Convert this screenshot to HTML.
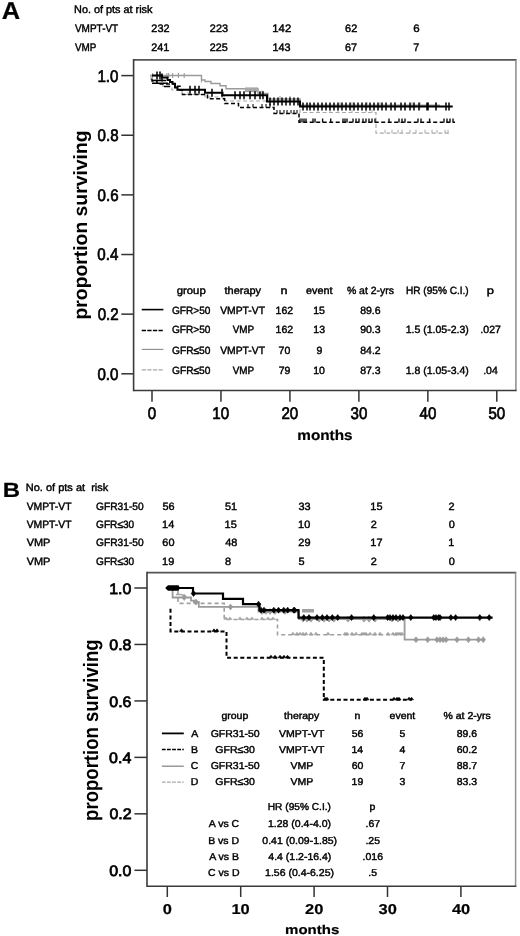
<!DOCTYPE html>
<html><head><meta charset="utf-8"><style>
html,body{margin:0;padding:0;background:#fff;overflow:hidden;}
svg{display:block;filter:blur(0.3px);}
text{font-family:"Liberation Sans", sans-serif;text-rendering:geometricPrecision;}
</style></head><body>
<svg width="520" height="936" viewBox="0 0 520 936">
<rect width="520" height="936" fill="#fff"/>
<text transform="translate(1.86,19.40) scale(1.0402,1)" font-size="24.5" font-weight="bold" fill="#000" stroke="#000" stroke-width="0.2">A</text>
<text transform="translate(74.11,13.30) scale(1.0045,1)" font-size="10.8" fill="#000" stroke="#000" stroke-width="0.42">No. of pts at risk</text>
<text transform="translate(74.95,31.90) scale(0.9246,1)" font-size="10.8" fill="#000" stroke="#000" stroke-width="0.42">VMPT-VT</text>
<text transform="translate(74.95,51.20) scale(0.9132,1)" font-size="10.8" fill="#000" stroke="#000" stroke-width="0.42">VMP</text>
<text transform="translate(151.35,31.90) scale(1.0098,1)" font-size="10.8" fill="#000" stroke="#000" stroke-width="0.42">232</text>
<text transform="translate(151.36,51.20)" font-size="10.8" fill="#000" stroke="#000" stroke-width="0.42">241</text>
<text transform="translate(209.86,31.90) scale(1.0059,1)" font-size="10.8" fill="#000" stroke="#000" stroke-width="0.42">223</text>
<text transform="translate(209.86,51.20)" font-size="10.8" fill="#000" stroke="#000" stroke-width="0.42">225</text>
<text transform="translate(272.34,31.90) scale(1.0448,1)" font-size="10.8" fill="#000" stroke="#000" stroke-width="0.42">142</text>
<text transform="translate(272.38,51.20)" font-size="10.8" fill="#000" stroke="#000" stroke-width="0.42">143</text>
<text transform="translate(345.04,31.90) scale(1.0166,1)" font-size="10.8" fill="#000" stroke="#000" stroke-width="0.42">62</text>
<text transform="translate(345.05,51.20)" font-size="10.8" fill="#000" stroke="#000" stroke-width="0.42">67</text>
<text transform="translate(413.31,31.90) scale(1.0645,1)" font-size="10.8" fill="#000" stroke="#000" stroke-width="0.42">6</text>
<text transform="translate(413.35,51.20)" font-size="10.8" fill="#000" stroke="#000" stroke-width="0.42">7</text>
<line x1="133.60" y1="59.90" x2="516.60" y2="59.90" stroke="#555" stroke-width="1.7"/>
<line x1="515.90" y1="59.90" x2="515.90" y2="390.50" stroke="#939393" stroke-width="1.6"/>
<line x1="133.60" y1="59.10" x2="133.60" y2="391.30" stroke="#3a3a3a" stroke-width="1.6"/>
<line x1="133.60" y1="390.50" x2="516.60" y2="390.50" stroke="#3a3a3a" stroke-width="1.6"/>
<line x1="121.30" y1="373.80" x2="133.50" y2="373.80" stroke="#333" stroke-width="1.5"/>
<text transform="translate(97.47,379.70) scale(0.9000,1)" font-size="16.8" fill="#000" stroke="#000" stroke-width="0.7">0.0</text>
<line x1="121.30" y1="314.16" x2="133.50" y2="314.16" stroke="#333" stroke-width="1.5"/>
<text transform="translate(97.64,320.06) scale(0.9000,1)" font-size="16.8" fill="#000" stroke="#000" stroke-width="0.7">0.2</text>
<line x1="121.30" y1="254.52" x2="133.50" y2="254.52" stroke="#333" stroke-width="1.5"/>
<text transform="translate(97.32,260.42) scale(0.9000,1)" font-size="16.8" fill="#000" stroke="#000" stroke-width="0.7">0.4</text>
<line x1="121.30" y1="194.88" x2="133.50" y2="194.88" stroke="#333" stroke-width="1.5"/>
<text transform="translate(97.55,200.78) scale(0.9000,1)" font-size="16.8" fill="#000" stroke="#000" stroke-width="0.7">0.6</text>
<line x1="121.30" y1="135.24" x2="133.50" y2="135.24" stroke="#333" stroke-width="1.5"/>
<text transform="translate(97.53,141.14) scale(0.9000,1)" font-size="16.8" fill="#000" stroke="#000" stroke-width="0.7">0.8</text>
<line x1="121.30" y1="75.60" x2="133.50" y2="75.60" stroke="#333" stroke-width="1.5"/>
<text transform="translate(97.47,81.50) scale(0.9000,1)" font-size="16.8" fill="#000" stroke="#000" stroke-width="0.7">1.0</text>
<line x1="152.00" y1="390.50" x2="152.00" y2="401.80" stroke="#333" stroke-width="1.5"/>
<text transform="translate(147.80,419.20) scale(0.9000,1)" font-size="16.8" fill="#000" stroke="#000" stroke-width="0.7">0</text>
<line x1="220.96" y1="390.50" x2="220.96" y2="401.80" stroke="#333" stroke-width="1.5"/>
<text transform="translate(212.27,419.20) scale(0.9000,1)" font-size="16.8" fill="#000" stroke="#000" stroke-width="0.7">10</text>
<line x1="289.92" y1="390.50" x2="289.92" y2="401.80" stroke="#333" stroke-width="1.5"/>
<text transform="translate(281.43,419.20) scale(0.9000,1)" font-size="16.8" fill="#000" stroke="#000" stroke-width="0.7">20</text>
<line x1="358.88" y1="390.50" x2="358.88" y2="401.80" stroke="#333" stroke-width="1.5"/>
<text transform="translate(350.48,419.20) scale(0.9000,1)" font-size="16.8" fill="#000" stroke="#000" stroke-width="0.7">30</text>
<line x1="427.84" y1="390.50" x2="427.84" y2="401.80" stroke="#333" stroke-width="1.5"/>
<text transform="translate(419.55,419.20) scale(0.9000,1)" font-size="16.8" fill="#000" stroke="#000" stroke-width="0.7">40</text>
<line x1="496.80" y1="390.50" x2="496.80" y2="401.80" stroke="#333" stroke-width="1.5"/>
<text transform="translate(488.39,419.20) scale(0.9000,1)" font-size="16.8" fill="#000" stroke="#000" stroke-width="0.7">50</text>
<text transform="translate(297.29,439.50) scale(1.0792,1)" font-size="14.2" font-weight="bold" fill="#000" stroke="#000" stroke-width="0.2">months</text>
<text transform="translate(86.50,319.48) rotate(-90) scale(1.0076,1.0000)" font-size="19.2" font-weight="bold">proportion surviving</text>
<text transform="translate(176.72,294.00) scale(1.0783,1)" font-size="10.5" fill="#000" stroke="#000" stroke-width="0.42">group</text>
<text transform="translate(224.54,294.00) scale(1.0434,1)" font-size="10.5" fill="#000" stroke="#000" stroke-width="0.42">therapy</text>
<text transform="translate(280.62,294.00) scale(1.1989,1)" font-size="10.5" fill="#000" stroke="#000" stroke-width="0.42">n</text>
<text transform="translate(306.00,294.00) scale(1.0271,1)" font-size="10.5" fill="#000" stroke="#000" stroke-width="0.42">event</text>
<text transform="translate(346.92,294.00) scale(0.9956,1)" font-size="10.5" fill="#000" stroke="#000" stroke-width="0.42">% at 2-yrs</text>
<text transform="translate(405.97,294.00) scale(0.9604,1)" font-size="10.5" fill="#000" stroke="#000" stroke-width="0.42">HR (95% C.I.)</text>
<text transform="translate(486.66,294.00) scale(1.2302,1)" font-size="10.5" fill="#000" stroke="#000" stroke-width="0.42">p</text>
<text transform="translate(172.00,313.70) scale(0.9606,1)" font-size="10.5" fill="#000" stroke="#000" stroke-width="0.42">GFR&gt;50</text>
<text transform="translate(220.15,313.70) scale(0.9864,1)" font-size="10.5" fill="#000" stroke="#000" stroke-width="0.42">VMPT-VT</text>
<text transform="translate(275.61,313.70)" font-size="10.5" fill="#000" stroke="#000" stroke-width="0.42">162</text>
<text transform="translate(313.28,313.70)" font-size="10.5" fill="#000" stroke="#000" stroke-width="0.42">15</text>
<text transform="translate(360.19,313.70)" font-size="10.5" fill="#000" stroke="#000" stroke-width="0.42">89.6</text>
<text transform="translate(172.00,333.40) scale(0.9606,1)" font-size="10.5" fill="#000" stroke="#000" stroke-width="0.42">GFR&gt;50</text>
<text transform="translate(232.65,333.40) scale(0.9415,1)" font-size="10.5" fill="#000" stroke="#000" stroke-width="0.42">VMP</text>
<text transform="translate(275.61,333.40)" font-size="10.5" fill="#000" stroke="#000" stroke-width="0.42">162</text>
<text transform="translate(313.29,333.40)" font-size="10.5" fill="#000" stroke="#000" stroke-width="0.42">13</text>
<text transform="translate(360.17,333.40)" font-size="10.5" fill="#000" stroke="#000" stroke-width="0.42">90.3</text>
<text transform="translate(405.71,333.40)" font-size="10.5" fill="#000" stroke="#000" stroke-width="0.42">1.5 (1.05-2.3)</text>
<text transform="translate(480.37,333.40)" font-size="10.5" fill="#000" stroke="#000" stroke-width="0.42">.027</text>
<text transform="translate(171.99,353.75) scale(0.9697,1)" font-size="10.5" fill="#000" stroke="#000" stroke-width="0.42">GFR≤50</text>
<text transform="translate(220.15,353.75) scale(0.9864,1)" font-size="10.5" fill="#000" stroke="#000" stroke-width="0.42">VMPT-VT</text>
<text transform="translate(278.60,353.75)" font-size="10.5" fill="#000" stroke="#000" stroke-width="0.42">70</text>
<text transform="translate(316.38,353.75)" font-size="10.5" fill="#000" stroke="#000" stroke-width="0.42">9</text>
<text transform="translate(360.22,353.75)" font-size="10.5" fill="#000" stroke="#000" stroke-width="0.42">84.2</text>
<text transform="translate(171.99,373.50) scale(0.9697,1)" font-size="10.5" fill="#000" stroke="#000" stroke-width="0.42">GFR≤50</text>
<text transform="translate(232.65,373.50) scale(0.9415,1)" font-size="10.5" fill="#000" stroke="#000" stroke-width="0.42">VMP</text>
<text transform="translate(278.64,373.50)" font-size="10.5" fill="#000" stroke="#000" stroke-width="0.42">79</text>
<text transform="translate(313.27,373.50)" font-size="10.5" fill="#000" stroke="#000" stroke-width="0.42">10</text>
<text transform="translate(360.19,373.50)" font-size="10.5" fill="#000" stroke="#000" stroke-width="0.42">87.3</text>
<text transform="translate(405.71,373.50)" font-size="10.5" fill="#000" stroke="#000" stroke-width="0.42">1.8 (1.05-3.4)</text>
<text transform="translate(483.18,373.50)" font-size="10.5" fill="#000" stroke="#000" stroke-width="0.42">.04</text>
<line x1="141.70" y1="309.60" x2="163.40" y2="309.60" stroke="#000" stroke-width="1.6"/>
<line x1="141.70" y1="330.50" x2="163.60" y2="330.50" stroke="#000" stroke-width="1.6" stroke-dasharray="4.3,1.3"/>
<line x1="141.70" y1="349.40" x2="163.40" y2="349.40" stroke="#8a8a8a" stroke-width="1.1"/>
<line x1="141.70" y1="369.90" x2="163.60" y2="369.90" stroke="#a8a8a8" stroke-width="1.2" stroke-dasharray="4.3,1.3"/>
<path d="M151,76 H151 V80 H163 V86.3 H172 V90 H182 V94.5 H205 V97 H225 V101 H300 V112.5 H376 V133.2 H449" fill="none" stroke="#a8a8a8" stroke-width="1.2" stroke-dasharray="4,2.5"/>
<path d="M188.0,91.5V94.5 M196.0,91.5V94.5 M318.0,109.5V112.5 M330.0,109.5V112.5 M338.0,109.5V112.5 M352.0,109.5V112.5 M366.0,109.5V112.5 M372.0,109.5V112.5" stroke="#b0b0b0" stroke-width="1.0" fill="none"/>
<path d="M385.0,129.7V133.2 M392.0,129.7V133.2 M398.0,129.7V133.2 M402.0,129.7V133.2 M410.0,129.7V133.2 M416.0,129.7V133.2 M425.0,129.7V133.2 M432.0,129.7V133.2 M437.0,129.7V133.2 M445.0,129.7V133.2 M448.0,129.7V133.2" stroke="#a8a8a8" stroke-width="1.0" fill="none"/>
<path d="M150,75.5 H201.5 V80 H205 V81.5 H211 V83.5 H220 V85.8 H226 V88.8 H258 V93.5 H268 V99 H300 V105.2 H440" fill="none" stroke="#9a9a9a" stroke-width="1.4"/>
<path d="M152.5,72.9V78.1 M166.9,72.9V78.1 M168.6,72.9V78.1 M172.7,72.9V78.1 M178.4,72.9V78.1 M184.2,72.9V78.1 M201.5,77.4V82.6" stroke="#9a9a9a" stroke-width="1.1" fill="none"/>
<rect x="245" y="87.4" width="13" height="4.8" fill="#a8a8a8"/>
<path d="M262.0,90.5V96.5 M280.0,96.0V102.0 M290.0,96.0V102.0 M340.0,102.2V108.2 M352.0,102.2V108.2 M367.0,102.2V108.2 M380.0,102.2V108.2 M395.0,102.2V108.2 M412.0,102.2V108.2 M420.0,102.2V108.2 M428.0,102.2V108.2 M436.0,102.2V108.2" stroke="#a0a0a0" stroke-width="1.1" fill="none"/>
<path d="M152,78.5 H152 V81 H157 V84 H175 V86.3 H180 V90 H182.5 V94.5 H207.5 V98.8 H224.6 V103.5 H238.5 V107.5 H274 V113.5 H299 V122.3 H455" fill="none" stroke="#000" stroke-width="1.5" stroke-dasharray="4,2.5"/>
<path d="M248.0,104.0V107.5 M253.0,104.0V107.5 M262.0,104.0V107.5 M266.0,104.0V107.5 M270.0,104.0V107.5 M277.0,110.0V113.5 M280.0,110.0V113.5 M284.0,110.0V113.5 M287.0,110.0V113.5 M291.0,110.0V113.5 M294.0,110.0V113.5 M297.0,110.0V113.5" stroke="#111" stroke-width="1.1" fill="none"/>
<path d="M300.0,118.5V122.6 M302.0,118.5V122.6 M304.0,118.5V122.6 M306.0,118.5V122.6 M313.0,118.5V122.6 M315.0,118.5V122.6 M322.6,118.5V122.6 M330.7,118.5V122.6 M343.0,118.5V122.6 M345.0,118.5V122.6 M347.0,118.5V122.6 M353.0,118.5V122.6 M356.0,118.5V122.6 M359.0,118.5V122.6 M363.0,118.5V122.6 M366.0,118.5V122.6 M369.0,118.5V122.6 M372.0,118.5V122.6 M375.0,118.5V122.6 M389.0,118.5V122.6 M399.0,118.5V122.6 M402.0,118.5V122.6 M405.0,118.5V122.6 M418.0,118.5V122.6 M421.0,118.5V122.6 M429.6,118.5V122.6 M444.0,118.5V122.6 M447.0,118.5V122.6 M450.0,118.5V122.6 M453.0,118.5V122.6" stroke="#111" stroke-width="1.4" fill="none"/>
<path d="M152,80.5 H166 M152,83.2 H168 M164,86.5 H170" fill="none" stroke="#000" stroke-width="1.6"/>
<path d="M152,75.5 H162 V77.5 H167.5 V80 H170 V82 H172.5 V83.8 H175 V87.5 H177.5 V89.8 H205 V92.7 H222.5 V95.3 H267 V101.5 H300 V106.4 H452.7" fill="none" stroke="#000" stroke-width="2.0"/>
<path d="M157.0,71.5V79.5 M160.0,71.5V79.5 M162.0,73.5V81.5 M190.0,85.8V93.8 M195.0,85.8V93.8 M199.0,85.8V93.8 M212.0,88.7V96.7 M222.0,88.7V96.7 M235.0,91.3V99.3 M240.0,91.3V99.3 M244.0,91.3V99.3 M250.0,91.3V99.3 M255.0,91.3V99.3 M260.0,91.3V99.3 M263.0,91.3V99.3 M270.0,97.5V105.5 M274.0,97.5V105.5 M278.0,97.5V105.5 M282.0,97.5V105.5 M286.0,97.5V105.5 M290.0,97.5V105.5 M294.0,97.5V105.5 M298.0,97.5V105.5 M303.0,102.4V110.4 M307.0,102.4V110.4 M310.0,102.4V110.4 M314.0,102.4V110.4 M318.0,102.4V110.4 M322.0,102.4V110.4 M326.0,102.4V110.4 M330.0,102.4V110.4 M334.0,102.4V110.4 M338.0,102.4V110.4 M342.0,102.4V110.4 M346.0,102.4V110.4 M350.0,102.4V110.4 M354.0,102.4V110.4 M358.0,102.4V110.4 M362.0,102.4V110.4 M366.0,102.4V110.4 M370.0,102.4V110.4 M374.0,102.4V110.4 M378.0,102.4V110.4 M382.0,102.4V110.4 M386.0,102.4V110.4 M391.0,102.4V110.4 M395.0,102.4V110.4 M401.0,102.4V110.4 M405.0,102.4V110.4 M410.0,102.4V110.4 M414.0,102.4V110.4 M419.0,102.4V110.4 M427.0,102.4V110.4 M428.0,102.4V110.4 M436.0,102.4V110.4 M446.0,102.4V110.4 M449.0,102.4V110.4" stroke="#000" stroke-width="1.5" fill="none"/>
<text transform="translate(2.80,497.00) scale(1.1675,1)" font-size="20.5" font-weight="bold" fill="#000" stroke="#000" stroke-width="0.2">B</text>
<text transform="translate(25.80,491.30) scale(1.0373,1)" font-size="10.6" fill="#000" stroke="#000" stroke-width="0.42">No. of pts at  risk</text>
<text transform="translate(26.65,510.00) scale(0.9771,1)" font-size="10.6" fill="#000" stroke="#000" stroke-width="0.42">VMPT-VT</text>
<text transform="translate(96.09,510.00) scale(0.9621,1)" font-size="10.6" fill="#000" stroke="#000" stroke-width="0.42">GFR31-50</text>
<text transform="translate(162.46,510.00) scale(1.0300,1)" font-size="10.6" fill="#000" stroke="#000" stroke-width="0.42">56</text>
<text transform="translate(224.96,510.00) scale(1.0300,1)" font-size="10.6" fill="#000" stroke="#000" stroke-width="0.42">51</text>
<text transform="translate(298.49,510.00) scale(1.0300,1)" font-size="10.6" fill="#000" stroke="#000" stroke-width="0.42">33</text>
<text transform="translate(370.37,510.00) scale(1.0300,1)" font-size="10.6" fill="#000" stroke="#000" stroke-width="0.42">15</text>
<text transform="translate(448.55,510.00) scale(1.0300,1)" font-size="10.6" fill="#000" stroke="#000" stroke-width="0.42">2</text>
<text transform="translate(26.65,528.20) scale(0.9771,1)" font-size="10.6" fill="#000" stroke="#000" stroke-width="0.42">VMPT-VT</text>
<text transform="translate(96.09,528.20) scale(0.9529,1)" font-size="10.6" fill="#000" stroke="#000" stroke-width="0.42">GFR≤30</text>
<text transform="translate(162.07,528.20) scale(1.0300,1)" font-size="10.6" fill="#000" stroke="#000" stroke-width="0.42">14</text>
<text transform="translate(224.57,528.20) scale(1.0300,1)" font-size="10.6" fill="#000" stroke="#000" stroke-width="0.42">15</text>
<text transform="translate(298.07,528.20) scale(1.0300,1)" font-size="10.6" fill="#000" stroke="#000" stroke-width="0.42">10</text>
<text transform="translate(370.65,528.20) scale(1.0300,1)" font-size="10.6" fill="#000" stroke="#000" stroke-width="0.42">2</text>
<text transform="translate(448.67,528.20) scale(1.0300,1)" font-size="10.6" fill="#000" stroke="#000" stroke-width="0.42">0</text>
<text transform="translate(26.65,546.30) scale(1.0300,1)" font-size="10.6" fill="#000" stroke="#000" stroke-width="0.42">VMP</text>
<text transform="translate(96.09,546.30) scale(0.9621,1)" font-size="10.6" fill="#000" stroke="#000" stroke-width="0.42">GFR31-50</text>
<text transform="translate(162.34,546.30) scale(1.0300,1)" font-size="10.6" fill="#000" stroke="#000" stroke-width="0.42">60</text>
<text transform="translate(225.15,546.30) scale(1.0300,1)" font-size="10.6" fill="#000" stroke="#000" stroke-width="0.42">48</text>
<text transform="translate(298.35,546.30) scale(1.0300,1)" font-size="10.6" fill="#000" stroke="#000" stroke-width="0.42">29</text>
<text transform="translate(370.37,546.30) scale(1.0300,1)" font-size="10.6" fill="#000" stroke="#000" stroke-width="0.42">17</text>
<text transform="translate(448.27,546.30) scale(1.0300,1)" font-size="10.6" fill="#000" stroke="#000" stroke-width="0.42">1</text>
<text transform="translate(26.65,564.80) scale(1.0300,1)" font-size="10.6" fill="#000" stroke="#000" stroke-width="0.42">VMP</text>
<text transform="translate(96.09,564.80) scale(0.9529,1)" font-size="10.6" fill="#000" stroke="#000" stroke-width="0.42">GFR≤30</text>
<text transform="translate(162.07,564.80) scale(1.0300,1)" font-size="10.6" fill="#000" stroke="#000" stroke-width="0.42">19</text>
<text transform="translate(224.93,564.80) scale(1.0300,1)" font-size="10.6" fill="#000" stroke="#000" stroke-width="0.42">8</text>
<text transform="translate(298.46,564.80) scale(1.0300,1)" font-size="10.6" fill="#000" stroke="#000" stroke-width="0.42">5</text>
<text transform="translate(370.65,564.80) scale(1.0300,1)" font-size="10.6" fill="#000" stroke="#000" stroke-width="0.42">2</text>
<text transform="translate(448.67,564.80) scale(1.0300,1)" font-size="10.6" fill="#000" stroke="#000" stroke-width="0.42">0</text>
<line x1="147.00" y1="572.60" x2="516.30" y2="572.60" stroke="#555" stroke-width="1.7"/>
<line x1="515.60" y1="572.60" x2="515.60" y2="886.20" stroke="#939393" stroke-width="1.5"/>
<line x1="147.00" y1="571.80" x2="147.00" y2="887.00" stroke="#3a3a3a" stroke-width="1.6"/>
<line x1="147.00" y1="886.20" x2="516.30" y2="886.20" stroke="#3a3a3a" stroke-width="1.6"/>
<line x1="134.40" y1="870.30" x2="147.10" y2="870.30" stroke="#333" stroke-width="1.5"/>
<text transform="translate(109.24,875.90) scale(1.0500,1)" font-size="15.2" fill="#000" stroke="#000" stroke-width="0.75">0.0</text>
<line x1="134.40" y1="813.84" x2="147.10" y2="813.84" stroke="#333" stroke-width="1.5"/>
<text transform="translate(109.41,819.44) scale(1.0500,1)" font-size="15.2" fill="#000" stroke="#000" stroke-width="0.75">0.2</text>
<line x1="134.40" y1="757.38" x2="147.10" y2="757.38" stroke="#333" stroke-width="1.5"/>
<text transform="translate(109.08,762.98) scale(1.0500,1)" font-size="15.2" fill="#000" stroke="#000" stroke-width="0.75">0.4</text>
<line x1="134.40" y1="700.92" x2="147.10" y2="700.92" stroke="#333" stroke-width="1.5"/>
<text transform="translate(109.32,706.52) scale(1.0500,1)" font-size="15.2" fill="#000" stroke="#000" stroke-width="0.75">0.6</text>
<line x1="134.40" y1="644.46" x2="147.10" y2="644.46" stroke="#333" stroke-width="1.5"/>
<text transform="translate(109.30,650.06) scale(1.0500,1)" font-size="15.2" fill="#000" stroke="#000" stroke-width="0.75">0.8</text>
<line x1="134.40" y1="588.00" x2="147.10" y2="588.00" stroke="#333" stroke-width="1.5"/>
<text transform="translate(109.24,593.60) scale(1.0500,1)" font-size="15.2" fill="#000" stroke="#000" stroke-width="0.75">1.0</text>
<line x1="167.30" y1="886.30" x2="167.30" y2="897.00" stroke="#333" stroke-width="1.5"/>
<text transform="translate(162.74,914.30) scale(1.1500,1)" font-size="14.3" font-weight="bold" fill="#000" stroke="#000" stroke-width="0.2">0</text>
<line x1="240.70" y1="886.30" x2="240.70" y2="897.00" stroke="#333" stroke-width="1.5"/>
<text transform="translate(231.38,914.30) scale(1.1500,1)" font-size="14.3" font-weight="bold" fill="#000" stroke="#000" stroke-width="0.2">10</text>
<line x1="314.10" y1="886.30" x2="314.10" y2="897.00" stroke="#333" stroke-width="1.5"/>
<text transform="translate(305.01,914.30) scale(1.1500,1)" font-size="14.3" font-weight="bold" fill="#000" stroke="#000" stroke-width="0.2">20</text>
<line x1="387.50" y1="886.30" x2="387.50" y2="897.00" stroke="#333" stroke-width="1.5"/>
<text transform="translate(378.50,914.30) scale(1.1500,1)" font-size="14.3" font-weight="bold" fill="#000" stroke="#000" stroke-width="0.2">30</text>
<line x1="460.90" y1="886.30" x2="460.90" y2="897.00" stroke="#333" stroke-width="1.5"/>
<text transform="translate(451.97,914.30) scale(1.1500,1)" font-size="14.3" font-weight="bold" fill="#000" stroke="#000" stroke-width="0.2">40</text>
<text transform="translate(285.11,933.70) scale(1.1728,1)" font-size="12.8" font-weight="bold" fill="#000" stroke="#000" stroke-width="0.2">months</text>
<text transform="translate(97.60,820.93) rotate(-90) scale(0.9983,1.1200)" font-size="18.6" font-weight="bold">proportion surviving</text>
<text transform="translate(221.38,719.40) scale(1.0500,1)" font-size="10.0" fill="#000" stroke="#000" stroke-width="0.42">group</text>
<text transform="translate(284.12,719.40) scale(1.0500,1)" font-size="10.0" fill="#000" stroke="#000" stroke-width="0.42">therapy</text>
<text transform="translate(354.38,719.40) scale(1.0500,1)" font-size="10.0" fill="#000" stroke="#000" stroke-width="0.42">n</text>
<text transform="translate(389.57,719.40) scale(1.0500,1)" font-size="10.0" fill="#000" stroke="#000" stroke-width="0.42">event</text>
<text transform="translate(443.47,719.40) scale(1.0500,1)" font-size="10.0" fill="#000" stroke="#000" stroke-width="0.42">% at 2-yrs</text>
<text transform="translate(191.20,736.70) scale(1.0500,1)" font-size="10.0" fill="#000" stroke="#000" stroke-width="0.42">A</text>
<text transform="translate(210.64,736.70) scale(1.0500,1)" font-size="10.0" fill="#000" stroke="#000" stroke-width="0.42">GFR31-50</text>
<text transform="translate(278.94,736.70) scale(1.0500,1)" font-size="10.0" fill="#000" stroke="#000" stroke-width="0.42">VMPT-VT</text>
<text transform="translate(351.78,736.70) scale(1.0500,1)" font-size="10.0" fill="#000" stroke="#000" stroke-width="0.42">56</text>
<text transform="translate(399.59,736.70) scale(1.0500,1)" font-size="10.0" fill="#000" stroke="#000" stroke-width="0.42">5</text>
<text transform="translate(456.69,736.70) scale(1.0500,1)" font-size="10.0" fill="#000" stroke="#000" stroke-width="0.42">89.6</text>
<text transform="translate(191.05,753.20) scale(1.0500,1)" font-size="10.0" fill="#000" stroke="#000" stroke-width="0.42">B</text>
<text transform="translate(215.34,753.20) scale(1.0500,1)" font-size="10.0" fill="#000" stroke="#000" stroke-width="0.42">GFR≤30</text>
<text transform="translate(278.94,753.20) scale(1.0500,1)" font-size="10.0" fill="#000" stroke="#000" stroke-width="0.42">VMPT-VT</text>
<text transform="translate(351.52,753.20) scale(1.0500,1)" font-size="10.0" fill="#000" stroke="#000" stroke-width="0.42">14</text>
<text transform="translate(399.61,753.20) scale(1.0500,1)" font-size="10.0" fill="#000" stroke="#000" stroke-width="0.42">4</text>
<text transform="translate(456.68,753.20) scale(1.0500,1)" font-size="10.0" fill="#000" stroke="#000" stroke-width="0.42">60.2</text>
<text transform="translate(190.84,769.00) scale(1.0500,1)" font-size="10.0" fill="#000" stroke="#000" stroke-width="0.42">C</text>
<text transform="translate(210.64,769.00) scale(1.0500,1)" font-size="10.0" fill="#000" stroke="#000" stroke-width="0.42">GFR31-50</text>
<text transform="translate(290.48,769.00) scale(1.0500,1)" font-size="10.0" fill="#000" stroke="#000" stroke-width="0.42">VMP</text>
<text transform="translate(351.70,769.00) scale(1.0500,1)" font-size="10.0" fill="#000" stroke="#000" stroke-width="0.42">60</text>
<text transform="translate(399.58,769.00) scale(1.0500,1)" font-size="10.0" fill="#000" stroke="#000" stroke-width="0.42">7</text>
<text transform="translate(456.72,769.00) scale(1.0500,1)" font-size="10.0" fill="#000" stroke="#000" stroke-width="0.42">88.7</text>
<text transform="translate(190.73,785.20) scale(1.0500,1)" font-size="10.0" fill="#000" stroke="#000" stroke-width="0.42">D</text>
<text transform="translate(215.34,785.20) scale(1.0500,1)" font-size="10.0" fill="#000" stroke="#000" stroke-width="0.42">GFR≤30</text>
<text transform="translate(290.48,785.20) scale(1.0500,1)" font-size="10.0" fill="#000" stroke="#000" stroke-width="0.42">VMP</text>
<text transform="translate(351.61,785.20) scale(1.0500,1)" font-size="10.0" fill="#000" stroke="#000" stroke-width="0.42">19</text>
<text transform="translate(399.61,785.20) scale(1.0500,1)" font-size="10.0" fill="#000" stroke="#000" stroke-width="0.42">3</text>
<text transform="translate(456.69,785.20) scale(1.0500,1)" font-size="10.0" fill="#000" stroke="#000" stroke-width="0.42">83.3</text>
<line x1="161.90" y1="733.40" x2="183.80" y2="733.40" stroke="#000" stroke-width="1.8"/>
<line x1="161.90" y1="749.50" x2="183.80" y2="749.50" stroke="#000" stroke-width="1.7" stroke-dasharray="3.8,1.3"/>
<line x1="161.90" y1="766.20" x2="183.80" y2="766.20" stroke="#8a8a8a" stroke-width="1.3"/>
<line x1="161.90" y1="782.20" x2="183.80" y2="782.20" stroke="#a8a8a8" stroke-width="1.3" stroke-dasharray="3.8,1.3"/>
<text transform="translate(267.77,809.70) scale(1.0150,1)" font-size="10.0" fill="#000" stroke="#000" stroke-width="0.42">HR (95% C.I.)</text>
<text transform="translate(369.46,809.70) scale(1.0500,1)" font-size="10.0" fill="#000" stroke="#000" stroke-width="0.42">p</text>
<text transform="translate(208.82,826.70) scale(1.0500,1)" font-size="10.0" fill="#000" stroke="#000" stroke-width="0.42">A vs C</text>
<text transform="translate(268.01,826.70) scale(1.0500,1)" font-size="10.0" fill="#000" stroke="#000" stroke-width="0.42">1.28 (0.4-4.0)</text>
<text transform="translate(365.49,826.70) scale(1.0500,1)" font-size="10.0" fill="#000" stroke="#000" stroke-width="0.42">.67</text>
<text transform="translate(208.16,843.50) scale(1.0500,1)" font-size="10.0" fill="#000" stroke="#000" stroke-width="0.42">B vs D</text>
<text transform="translate(262.36,843.50) scale(1.0500,1)" font-size="10.0" fill="#000" stroke="#000" stroke-width="0.42">0.41 (0.09-1.85)</text>
<text transform="translate(365.45,843.50) scale(1.0500,1)" font-size="10.0" fill="#000" stroke="#000" stroke-width="0.42">.25</text>
<text transform="translate(209.19,860.00) scale(1.0500,1)" font-size="10.0" fill="#000" stroke="#000" stroke-width="0.42">A vs B</text>
<text transform="translate(268.29,860.00) scale(1.0500,1)" font-size="10.0" fill="#000" stroke="#000" stroke-width="0.42">4.4 (1.2-16.4)</text>
<text transform="translate(362.54,860.00) scale(1.0500,1)" font-size="10.0" fill="#000" stroke="#000" stroke-width="0.42">.016</text>
<text transform="translate(208.03,876.40) scale(1.0500,1)" font-size="10.0" fill="#000" stroke="#000" stroke-width="0.42">C vs D</text>
<text transform="translate(265.09,876.40) scale(1.0500,1)" font-size="10.0" fill="#000" stroke="#000" stroke-width="0.42">1.56 (0.4-6.25)</text>
<text transform="translate(368.36,876.40) scale(1.0500,1)" font-size="10.0" fill="#000" stroke="#000" stroke-width="0.42">.5</text>
<path d="M167,588 H178 V603.4 H224.2 V619.5 H277.5 V634.8 H402.5" fill="none" stroke="#a0a0a0" stroke-width="1.6" stroke-dasharray="4,3"/>
<path d="M224.0,619.5L226.0,616.9L228.0,619.5Z M228.0,619.5L230.0,616.9L232.0,619.5Z M238.0,619.5L240.0,616.9L242.0,619.5Z M245.0,619.5L247.0,616.9L249.0,619.5Z M250.0,619.5L252.0,616.9L254.0,619.5Z M260.0,619.5L262.0,616.9L264.0,619.5Z M266.0,619.5L268.0,616.9L270.0,619.5Z M271.0,619.5L273.0,616.9L275.0,619.5Z" fill="#a8a8a8" stroke="#a8a8a8" stroke-width="0.6"/>
<path d="M291.0,634.8L293.0,632.2L295.0,634.8Z M295.0,634.8L297.0,632.2L299.0,634.8Z M298.0,634.8L300.0,632.2L302.0,634.8Z M301.0,634.8L303.0,632.2L305.0,634.8Z M304.0,634.8L306.0,632.2L308.0,634.8Z M309.0,634.8L311.0,632.2L313.0,634.8Z M314.0,634.8L316.0,632.2L318.0,634.8Z M326.0,634.8L328.0,632.2L330.0,634.8Z M343.0,634.8L345.0,632.2L347.0,634.8Z M345.0,634.8L347.0,632.2L349.0,634.8Z M350.0,634.8L352.0,632.2L354.0,634.8Z M354.0,634.8L356.0,632.2L358.0,634.8Z M360.0,634.8L362.0,632.2L364.0,634.8Z M362.0,634.8L364.0,632.2L366.0,634.8Z M364.0,634.8L366.0,632.2L368.0,634.8Z M368.0,634.8L370.0,632.2L372.0,634.8Z M373.0,634.8L375.0,632.2L377.0,634.8Z M378.0,634.8L380.0,632.2L382.0,634.8Z M386.0,634.8L388.0,632.2L390.0,634.8Z M391.0,634.8L393.0,632.2L395.0,634.8Z M394.0,634.8L396.0,632.2L398.0,634.8Z M396.0,634.8L398.0,632.2L400.0,634.8Z M398.0,634.8L400.0,632.2L402.0,634.8Z M400.0,634.8L402.0,632.2L404.0,634.8Z" fill="#a0a0a0" stroke="#a0a0a0" stroke-width="0.6"/>
<path d="M167,588 H172.6 V597.5 H191 V600.6 H194 V602 H198.8 V606.9 H258.5 V611.5 H299 V619.2 H404.6 V639.7 H485.2" fill="none" stroke="#9a9a9a" stroke-width="1.8"/>
<path d="M176,594.5 H181 L186,596" fill="none" stroke="#a8a8a8" stroke-width="1.5"/>
<path d="M181.9,597.5L184.2,594.5L186.5,597.5L184.2,600.5Z M193.7,602.0L196.0,599.0L198.3,602.0L196.0,605.0Z M228.2,606.9L230.5,603.9L232.8,606.9L230.5,609.9Z M259.7,611.5L262.0,608.5L264.3,611.5L262.0,614.5Z M263.7,611.5L266.0,608.5L268.3,611.5L266.0,614.5Z M267.7,611.5L270.0,608.5L272.3,611.5L270.0,614.5Z M272.7,611.5L275.0,608.5L277.3,611.5L275.0,614.5Z M282.7,611.5L285.0,608.5L287.3,611.5L285.0,614.5Z M300.7,619.2L303.0,616.2L305.3,619.2L303.0,622.2Z M304.7,619.2L307.0,616.2L309.3,619.2L307.0,622.2Z M308.7,619.2L311.0,616.2L313.3,619.2L311.0,622.2Z M316.7,619.2L319.0,616.2L321.3,619.2L319.0,622.2Z M321.7,619.2L324.0,616.2L326.3,619.2L324.0,622.2Z M326.7,619.2L329.0,616.2L331.3,619.2L329.0,622.2Z M331.7,619.2L334.0,616.2L336.3,619.2L334.0,622.2Z M345.7,619.2L348.0,616.2L350.3,619.2L348.0,622.2Z M361.7,619.2L364.0,616.2L366.3,619.2L364.0,622.2Z M366.7,619.2L369.0,616.2L371.3,619.2L369.0,622.2Z M372.7,619.2L375.0,616.2L377.3,619.2L375.0,622.2Z M389.7,619.2L392.0,616.2L394.3,619.2L392.0,622.2Z M395.7,619.2L398.0,616.2L400.3,619.2L398.0,622.2Z" fill="#9a9a9a" stroke="#9a9a9a" stroke-width="0.6"/>
<path d="M413.7,639.7L416.0,636.7L418.3,639.7L416.0,642.7Z M425.4,639.7L427.7,636.7L430.0,639.7L427.7,642.7Z M434.7,639.7L437.0,636.7L439.3,639.7L437.0,642.7Z M437.7,639.7L440.0,636.7L442.3,639.7L440.0,642.7Z M440.7,639.7L443.0,636.7L445.3,639.7L443.0,642.7Z M443.7,639.7L446.0,636.7L448.3,639.7L446.0,642.7Z M454.7,639.7L457.0,636.7L459.3,639.7L457.0,642.7Z M466.1,639.7L468.4,636.7L470.7,639.7L468.4,642.7Z M476.2,639.7L478.5,636.7L480.8,639.7L478.5,642.7Z M480.9,639.7L483.2,636.7L485.5,639.7L483.2,642.7Z" fill="#9a9a9a" stroke="#9a9a9a" stroke-width="0.6"/>
<rect x="302" y="609" width="12" height="3.5" fill="#a0a0a0"/>
<path d="M170.5,608.8 H170.5 V631.4 H226.5 V657.8 H323.8 V699.8 H412" fill="none" stroke="#000" stroke-width="2.0" stroke-dasharray="4,2.6"/>
<path d="M179.5,631.4L181.5,628.8L183.5,631.4Z M212.0,631.4L214.0,628.8L216.0,631.4Z M215.0,631.4L217.0,628.8L219.0,631.4Z" fill="#000" stroke="#000" stroke-width="0.6"/>
<path d="M269.0,657.8L271.0,655.2L273.0,657.8Z M273.0,657.8L275.0,655.2L277.0,657.8Z M278.0,657.8L280.0,655.2L282.0,657.8Z M282.0,657.8L284.0,655.2L286.0,657.8Z M285.5,657.8L287.5,655.2L289.5,657.8Z" fill="#000" stroke="#000" stroke-width="0.6"/>
<path d="M323.0,699.8L325.0,697.2L327.0,699.8Z M325.0,699.8L327.0,697.2L329.0,699.8Z M363.0,699.8L365.0,697.2L367.0,699.8Z M365.0,699.8L367.0,697.2L369.0,699.8Z M392.0,699.8L394.0,697.2L396.0,699.8Z M395.0,699.8L397.0,697.2L399.0,699.8Z M397.0,699.8L399.0,697.2L401.0,699.8Z M407.0,699.8L409.0,697.2L411.0,699.8Z M409.5,699.8L411.5,697.2L413.5,699.8Z" fill="#000" stroke="#000" stroke-width="0.6"/>
<path d="M166.5,588 H193 V593.5 H223 V598.8 H243 V604.2 H259.5 V610.2 H298.5 V617.6 H492.6" fill="none" stroke="#000" stroke-width="2.2"/>
<path d="M165.2,588 L168,585.3 H178.5 L180,588 L178.5,590.7 H168 Z" fill="#000"/>
<path d="M191.2,593.5L193.5,590.5L195.8,593.5L193.5,596.5Z M256.2,604.2L258.5,601.2L260.8,604.2L258.5,607.2Z M258.7,610.2L261.0,607.2L263.3,610.2L261.0,613.2Z M261.7,610.2L264.0,607.2L266.3,610.2L264.0,613.2Z M271.5,610.2L273.8,607.2L276.1,610.2L273.8,613.2Z M276.2,610.2L278.5,607.2L280.8,610.2L278.5,613.2Z M281.5,610.2L283.8,607.2L286.1,610.2L283.8,613.2Z M285.4,610.2L287.7,607.2L290.0,610.2L287.7,613.2Z M291.5,610.2L293.8,607.2L296.1,610.2L293.8,613.2Z M292.3,610.2L294.6,607.2L296.9,610.2L294.6,613.2Z" fill="#000" stroke="#000" stroke-width="0.6"/>
<path d="M301.5,617.6L303.8,614.6L306.1,617.6L303.8,620.6Z M306.7,617.6L309.0,614.6L311.3,617.6L309.0,620.6Z M314.7,617.6L317.0,614.6L319.3,617.6L317.0,620.6Z M320.0,617.6L322.3,614.6L324.6,617.6L322.3,620.6Z M324.7,617.6L327.0,614.6L329.3,617.6L327.0,620.6Z M330.0,617.6L332.3,614.6L334.6,617.6L332.3,620.6Z M335.4,617.6L337.7,614.6L340.0,617.6L337.7,620.6Z M349.2,617.6L351.5,614.6L353.8,617.6L351.5,620.6Z M371.5,617.6L373.8,614.6L376.1,617.6L373.8,620.6Z M385.4,617.6L387.7,614.6L390.0,617.6L387.7,620.6Z M387.7,617.6L390.0,614.6L392.3,617.6L390.0,620.6Z M390.7,617.6L393.0,614.6L395.3,617.6L393.0,620.6Z M393.7,617.6L396.0,614.6L398.3,617.6L396.0,620.6Z M397.7,617.6L400.0,614.6L402.3,617.6L400.0,620.6Z M400.7,617.6L403.0,614.6L405.3,617.6L403.0,620.6Z M408.5,617.6L410.8,614.6L413.1,617.6L410.8,620.6Z M431.5,617.6L433.8,614.6L436.1,617.6L433.8,620.6Z M433.7,617.6L436.0,614.6L438.3,617.6L436.0,620.6Z M436.2,617.6L438.5,614.6L440.8,617.6L438.5,620.6Z M437.7,617.6L440.0,614.6L442.3,617.6L440.0,620.6Z M448.6,617.6L450.9,614.6L453.2,617.6L450.9,620.6Z M453.3,617.6L455.6,614.6L457.9,617.6L455.6,620.6Z M477.5,617.6L479.8,614.6L482.1,617.6L479.8,620.6Z M486.9,617.6L489.2,614.6L491.5,617.6L489.2,620.6Z" fill="#000" stroke="#000" stroke-width="0.6"/>
</svg>
</body></html>
